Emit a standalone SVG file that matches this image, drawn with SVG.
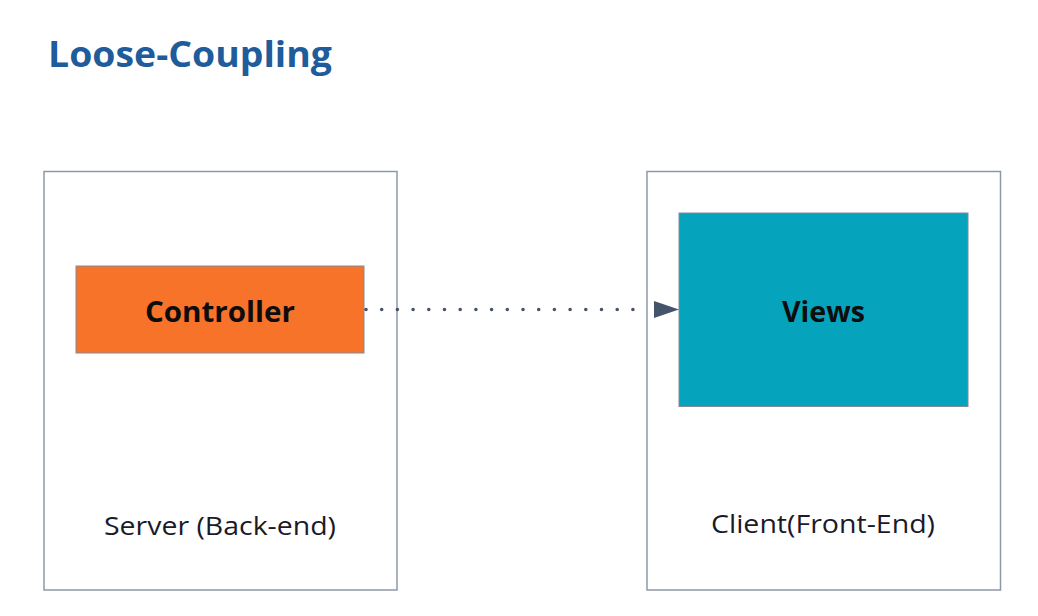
<svg xmlns="http://www.w3.org/2000/svg" width="1038" height="616" viewBox="0 0 1038 616">
  <defs>
    <style>
      .container { fill: #ffffff; stroke: #8D99A8; stroke-width: 1.5; }
      .box { stroke: #7F8C99; stroke-width: 1; }
      .title { font-family: "Open Sans", "Liberation Sans", sans-serif; font-weight: bold; font-size: 35px; fill: #1F5C9C; }
      .label-bold { font-family: "Open Sans", "Liberation Sans", sans-serif; font-weight: bold; font-size: 29px; fill: #0D0D0D; text-anchor: middle; }
      .label { font-family: "Open Sans", "Liberation Sans", sans-serif; font-size: 26px; fill: #1A1A2A; text-anchor: middle; }
      .connector { stroke: #44546A; stroke-width: 3.6; stroke-linecap: round; stroke-dasharray: 0 15.7; fill: none; }
    </style>
  </defs>
  <rect width="1038" height="616" fill="#ffffff"/>
  <text class="title" x="48" y="67" textLength="284" lengthAdjust="spacingAndGlyphs">Loose-Coupling</text>

  <g id="server">
    <rect class="container" x="44" y="171.5" width="353" height="418.5"/>
    <text class="label" x="220" y="535" textLength="232" lengthAdjust="spacingAndGlyphs">Server (Back-end)</text>
  </g>
  <g id="client">
    <rect class="container" x="647" y="171.5" width="353.5" height="418.5"/>
    <text class="label" x="823" y="533" textLength="224" lengthAdjust="spacingAndGlyphs">Client(Front-End)</text>
  </g>
  <g id="controller">
    <rect class="box" x="76" y="266" width="288" height="87" fill="#F7732A"/>
    <text class="label-bold" x="220" y="322" textLength="150" lengthAdjust="spacingAndGlyphs">Controller</text>
  </g>
  <g id="views">
    <rect class="box" x="679" y="213" width="289" height="193.5" fill="#05A4BC"/>
    <text class="label-bold" x="823.5" y="322" textLength="83" lengthAdjust="spacingAndGlyphs">Views</text>
  </g>

  <g id="connectors">
    <line class="connector" x1="366" y1="309.5" x2="648" y2="309.5"/>
    <path d="M654,301 L679,309.5 L654,318 Z" fill="#44546A"/>
  </g>
</svg>
